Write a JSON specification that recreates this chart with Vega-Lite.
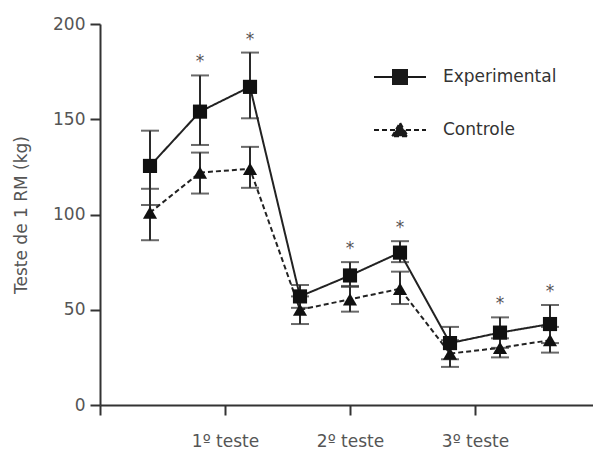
{
  "$schema": "https://vega.github.io/schema/vega-lite/v6.json",
  "width": 493,
  "height": 381,
  "autosize": "none",
  "padding": {"left": 100, "top": 24, "right": 0, "bottom": 46},
  "background": "white",
  "config": {
    "view": {"stroke": null},
    "font": "DejaVu Sans",
    "axis": {
      "grid": false,
      "domainColor": "#333333",
      "domainWidth": 2,
      "tickColor": "#333333",
      "tickWidth": 2,
      "tickSize": 10,
      "labelFontSize": 17,
      "labelColor": "#555555",
      "titleFontSize": 17,
      "titleFontWeight": "normal",
      "titleColor": "#555555"
    }
  },
  "data": {
    "values": [
      {"t": 1, "g": "Experimental", "m": 125.5, "lo": 105, "hi": 144, "sig": false},
      {"t": 2, "g": "Experimental", "m": 154, "lo": 136.5, "hi": 173, "sig": true},
      {"t": 3, "g": "Experimental", "m": 167, "lo": 150.5, "hi": 185, "sig": true},
      {"t": 4, "g": "Experimental", "m": 57, "lo": 51, "hi": 63, "sig": false},
      {"t": 5, "g": "Experimental", "m": 68, "lo": 62.5, "hi": 75, "sig": true},
      {"t": 6, "g": "Experimental", "m": 80, "lo": 75, "hi": 86, "sig": true},
      {"t": 7, "g": "Experimental", "m": 32.5, "lo": 24, "hi": 41, "sig": false},
      {"t": 8, "g": "Experimental", "m": 38, "lo": 30, "hi": 46, "sig": true},
      {"t": 9, "g": "Experimental", "m": 42.5, "lo": 32.5, "hi": 52.5, "sig": true},
      {"t": 1, "g": "Controle", "m": 101, "lo": 86.5, "hi": 113.5, "sig": false},
      {"t": 2, "g": "Controle", "m": 122, "lo": 111, "hi": 132.5, "sig": false},
      {"t": 3, "g": "Controle", "m": 124, "lo": 114, "hi": 135.5, "sig": false},
      {"t": 4, "g": "Controle", "m": 50, "lo": 42.5, "hi": 57, "sig": false},
      {"t": 5, "g": "Controle", "m": 55.5, "lo": 49, "hi": 62, "sig": false},
      {"t": 6, "g": "Controle", "m": 61, "lo": 53, "hi": 70, "sig": false},
      {"t": 7, "g": "Controle", "m": 27, "lo": 20, "hi": 34, "sig": false},
      {"t": 8, "g": "Controle", "m": 30, "lo": 25, "hi": 35, "sig": false},
      {"t": 9, "g": "Controle", "m": 34, "lo": 27.5, "hi": 41, "sig": false}
    ]
  },
  "encoding": {
    "x": {
      "field": "t",
      "type": "quantitative",
      "scale": {"domain": [0, 9.86], "nice": false, "zero": false},
      "axis": {
        "title": null,
        "values": [0, 2.5, 5, 7.5],
        "labelExpr": "datum.value == 2.5 ? '1º teste' : datum.value == 5 ? '2º teste' : datum.value == 7.5 ? '3º teste' : ''",
        "labelPadding": 18
      }
    }
  },
  "layer": [
    {
      "mark": {"type": "line", "strokeWidth": 2, "color": "#222222"},
      "encoding": {
        "y": {
          "field": "m",
          "type": "quantitative",
          "title": "Teste de 1 RM (kg)",
          "scale": {"domain": [0, 200], "nice": false},
          "axis": {
            "values": [0, 50, 100, 150, 200],
            "labelPadding": 5,
            "titlePadding": 22
          }
        },
        "strokeDash": {
          "field": "g",
          "type": "nominal",
          "scale": {"domain": ["Experimental", "Controle"], "range": [[1, 0], [5, 3]]},
          "legend": {
            "title": null,
            "orient": "none",
            "legendX": 273,
            "legendY": 26,
            "padding": 0,
            "symbolSize": 2704,
            "symbolStrokeWidth": 2,
            "symbolStrokeColor": "#1a1a1a",
            "symbolFillColor": "#1a1a1a",
            "labelFontSize": 17,
            "labelColor": "#333333",
            "labelOffset": 16,
            "rowPadding": 14,
            "encode": {
              "symbols": {
                "update": {
                  "shape": {"signal": "datum.value === 'Experimental' ? 'M-1,0H1M-0.27,-0.27H0.27V0.27H-0.27Z' : 'M-1,0H1M-0.3,0.24L0,-0.28L0.3,0.24Z'"},
                  "fill": {"value": "#1a1a1a"},
                  "stroke": {"value": "#1a1a1a"},
                  "opacity": {"value": 1}
                }
              }
            }
          }
        }
      }
    },
    {
      "mark": {"type": "errorbar", "ticks": {"size": 18}, "thickness": 2, "color": "#2a2a2a"},
      "encoding": {
        "y": {"field": "lo", "type": "quantitative", "title": "Teste de 1 RM (kg)"},
        "y2": {"field": "hi"},
        "detail": {"field": "g"}
      }
    },
    {
      "transform": [{"filter": "datum.g === 'Experimental'"}],
      "mark": {"type": "point", "shape": "square", "filled": true, "opacity": 1, "color": "#111111", "size": 200},
      "encoding": {
        "y": {"field": "m", "type": "quantitative", "title": "Teste de 1 RM (kg)"}
      }
    },
    {
      "transform": [{"filter": "datum.g === 'Controle'"}],
      "mark": {"type": "point", "shape": "triangle-up", "filled": true, "opacity": 1, "color": "#111111", "size": 200},
      "encoding": {
        "y": {"field": "m", "type": "quantitative", "title": "Teste de 1 RM (kg)"}
      }
    },
    {
      "transform": [{"filter": "datum.sig"}],
      "mark": {"type": "text", "text": "*", "dy": -13, "fontSize": 17, "fill": "#555555", "color": "#555555"},
      "encoding": {
        "y": {"field": "hi", "type": "quantitative", "title": "Teste de 1 RM (kg)"}
      }
    }
  ]
}
